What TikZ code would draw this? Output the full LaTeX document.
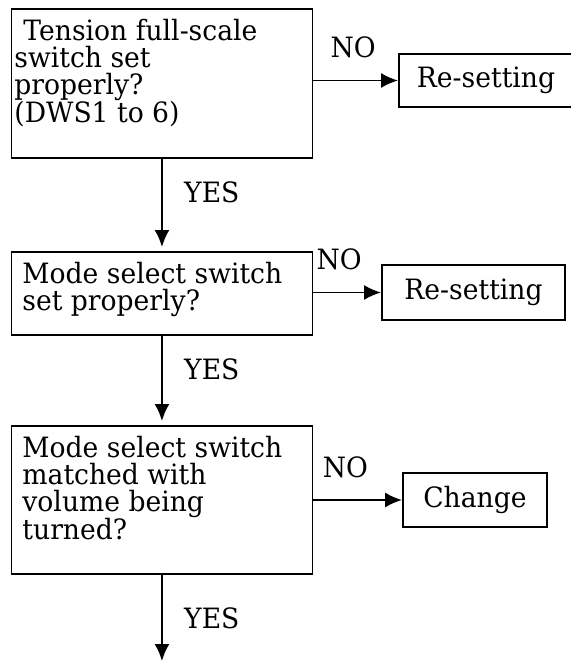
\documentclass[tikz,border=0pt]{standalone}
\usepackage{fontspec}
\setmainfont{DejaVu Serif}[FakeStretch=0.95]
\usetikzlibrary{positioning,arrows.meta}
% question text, set from the top of a box of fixed height
\newcommand\qtext[3][11bp]{\parbox[c][#2][t]{301bp}{\raggedright\leftskip=#1\vspace*{10bp}#3}}

\begin{document}
\begin{tikzpicture}[x=1bp,y=-1bp,font=\fontsize{28bp}{27bp}\selectfont,
  qbox/.style={draw, line width=1.9bp, inner sep=0pt, anchor=north west},
  rbox/.style={draw, line width=1.9bp, inner sep=0pt},
  flow/.style={-{Latex[length=17bp,width=15bp]}, line width=1.9bp}]
  \useasboundingbox (0,0) rectangle (571,661);

  %% questions
  \node[qbox] (q1) at (10.5,8) {\qtext[3bp]{149bp}{\hspace*{9bp}Tension full-scale\\switch set\\properly?\\(DWS1 to 6)}};
  \node[qbox] (q2) at (10.5,251) {\qtext{83bp}{Mode select switch\\set properly?}};
  \node[qbox] (q3) at (10.5,425) {\qtext{148bp}{Mode select switch\\matched with\\volume being\\turned?}};

  %% actions
  \node[rbox, minimum width=174bp, minimum height=53bp] (r1) at (486,80.5) {Re-setting};
  \node[rbox, minimum width=183bp, minimum height=55bp] (r2) at (473.5,292.5) {Re-setting};
  \node[rbox, minimum width=144bp, minimum height=54bp] (r3) at (475,500) {Change};
  \coordinate (out) at (q3.south |- 0,661);

  %% NO branches
  \draw[flow] (r1.west -| q1.east) -- node[above=18bp, pos=0.47] (no1) {NO} (r1.west);
  \draw[flow] (r2.west -| q2.east) -- node[above=18bp, pos=0.38] (no2) {NO} (r2.west);
  \draw[flow] (r3.west -| q3.east) -- node[above=18bp, pos=0.36] (no3) {NO} (r3.west);

  %% YES branches
  \draw[flow, shorten >=4bp] (q1.south) -- node[right=18bp, pos=0.36] (yes1) {YES} (q2.north);
  \draw[flow, shorten >=4bp] (q2.south) -- node[right=18bp, pos=0.38] (yes2) {YES} (q3.north);
  \draw[flow] (q3.south) -- node[right=18bp, pos=0.5] (yes3) {YES} (out);
\end{tikzpicture}
\end{document}
